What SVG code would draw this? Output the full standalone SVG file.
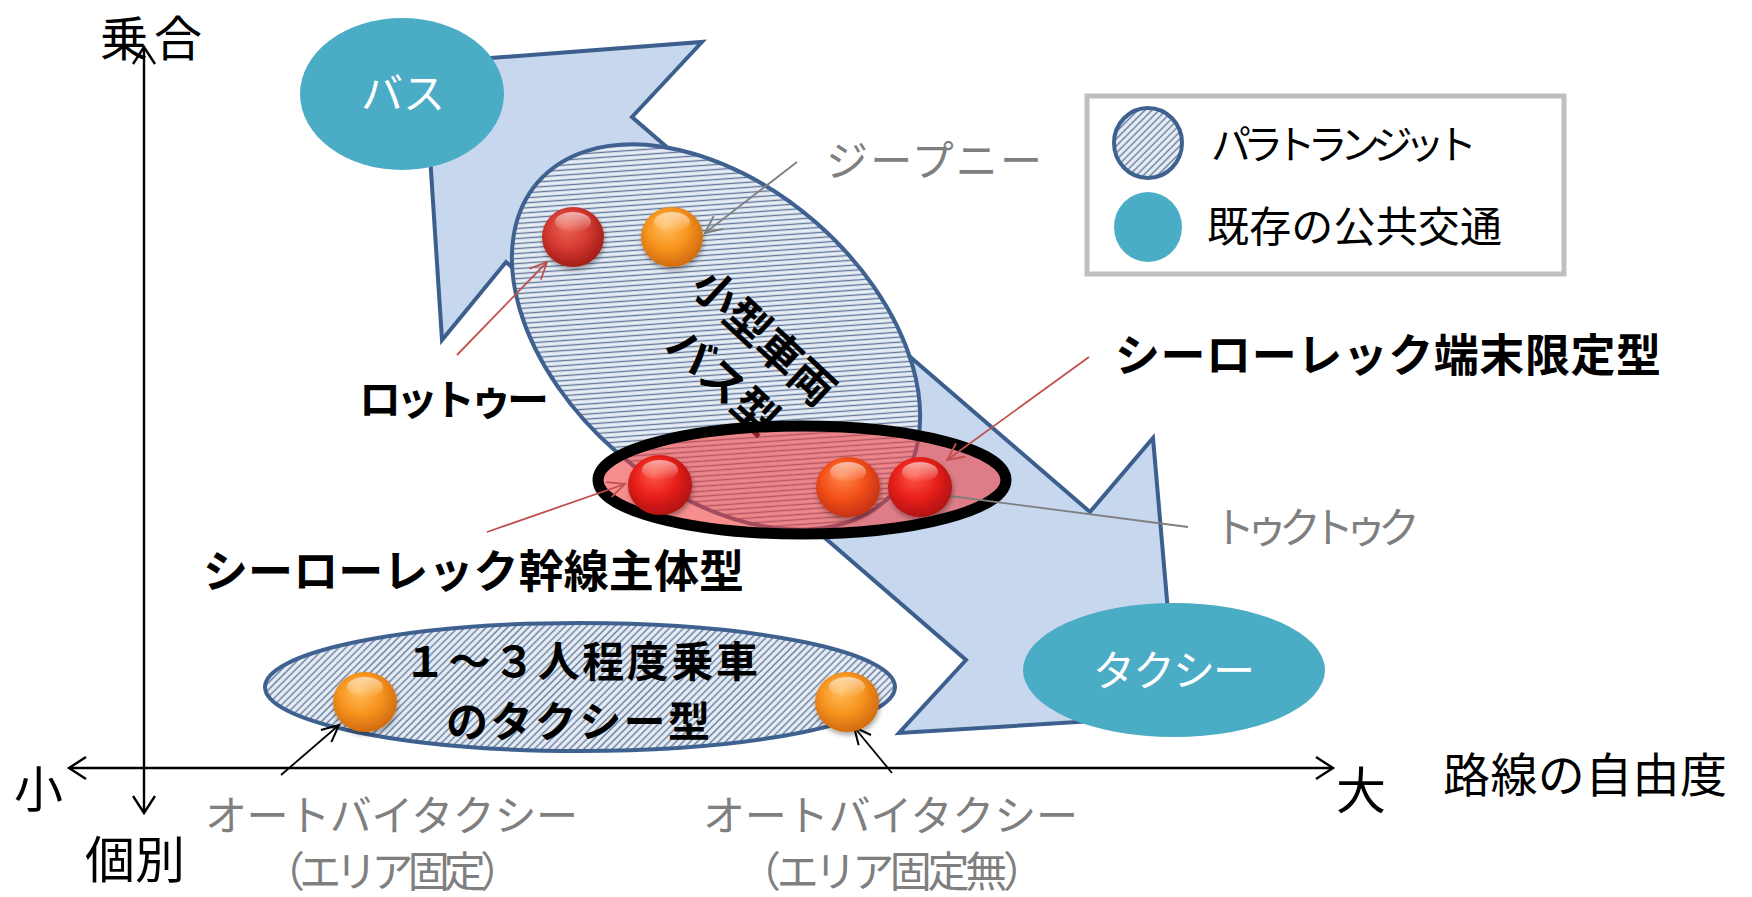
<svg xmlns="http://www.w3.org/2000/svg" width="1752" height="897" viewBox="0 0 1752 897">
<style>
.t { font-family: "Noto Sans CJK JP", "Noto Sans CJK SC", sans-serif; }
.b { font-weight: bold; fill: #000; }
.g { fill: #7F7F7F; }
.k { fill: #000; }
.w { fill: #FFFFFF; }
.hatchShape { fill: url(#hatch); stroke: #3F618F; stroke-width: 4; }
.teal { fill: #4BACC6; }
.lead { fill: none; stroke-width: 1.8; }
.axis { fill: none; stroke: #000; stroke-width: 2.4; }
</style>
<defs>
  <pattern id="hatch" patternUnits="userSpaceOnUse" width="5" height="5" patternTransform="rotate(45)">
    <rect width="5" height="5" fill="#E8EEF6"/>
    <line x1="2.5" y1="0" x2="2.5" y2="5" stroke="#62799A" stroke-width="1.4"/>
  </pattern>
  <radialGradient id="gRedDark" cx="0.45" cy="0.42" r="0.6" fx="0.4" fy="0.3">
    <stop offset="0" stop-color="#EE6A58"/>
    <stop offset="0.55" stop-color="#D43A30"/>
    <stop offset="1" stop-color="#A01C18"/>
  </radialGradient>
  <radialGradient id="gRed" cx="0.45" cy="0.42" r="0.6" fx="0.4" fy="0.3">
    <stop offset="0" stop-color="#FF5A48"/>
    <stop offset="0.55" stop-color="#E8201A"/>
    <stop offset="1" stop-color="#B01010"/>
  </radialGradient>
  <radialGradient id="gOrange" cx="0.45" cy="0.42" r="0.6" fx="0.4" fy="0.3">
    <stop offset="0" stop-color="#FFC060"/>
    <stop offset="0.55" stop-color="#F7941E"/>
    <stop offset="1" stop-color="#D0690E"/>
  </radialGradient>
  <radialGradient id="gOrRed" cx="0.45" cy="0.42" r="0.6" fx="0.4" fy="0.3">
    <stop offset="0" stop-color="#FF8A50"/>
    <stop offset="0.55" stop-color="#F4511A"/>
    <stop offset="1" stop-color="#C43010"/>
  </radialGradient>
  <linearGradient id="hl" x1="0" y1="0" x2="0" y2="1">
    <stop offset="0" stop-color="#FFFFFF" stop-opacity="0.6"/>
    <stop offset="1" stop-color="#FFFFFF" stop-opacity="0"/>
  </linearGradient>
  <filter id="sh" x="-30%" y="-30%" width="160%" height="160%">
    <feDropShadow dx="1" dy="3" stdDeviation="2.5" flood-color="#000" flood-opacity="0.35"/>
  </filter>
  <marker id="mRed" markerWidth="20" markerHeight="18" refX="18" refY="9" orient="auto" markerUnits="userSpaceOnUse">
    <path d="M1,1 L18,9 L1,17" fill="none" stroke="#C0504D" stroke-width="1.8"/>
  </marker>
  <marker id="mGray" markerWidth="20" markerHeight="18" refX="18" refY="9" orient="auto" markerUnits="userSpaceOnUse">
    <path d="M1,1 L18,9 L1,17" fill="none" stroke="#7F7F7F" stroke-width="1.8"/>
  </marker>
  <marker id="mBlack" markerWidth="20" markerHeight="18" refX="18" refY="9" orient="auto" markerUnits="userSpaceOnUse">
    <path d="M1,1 L18,9 L1,17" fill="none" stroke="#000" stroke-width="2"/>
  </marker>
  <marker id="mAxis" markerWidth="22" markerHeight="24" refX="19" refY="12" orient="auto-start-reverse" markerUnits="userSpaceOnUse">
    <path d="M2,1 L19,12 L2,23" fill="none" stroke="#000" stroke-width="2.4"/>
  </marker>
</defs>

<rect width="1752" height="897" fill="#FFFFFF"/>

<!-- axes -->
<g id="axes">
  <line class="axis" x1="144" y1="813" x2="144" y2="47" marker-end="url(#mAxis)" marker-start="url(#mAxis)"/>
  <line class="axis" x1="69" y1="768" x2="1333" y2="768" marker-end="url(#mAxis)" marker-start="url(#mAxis)"/>
  <text class="t k" x="100" y="56" font-size="48" textLength="102" lengthAdjust="spacing">乗合</text>
  <text class="t k" x="85" y="878" font-size="50">個別</text>
  <text class="t k" x="14" y="807" font-size="49">小</text>
  <text class="t k" x="1336" y="809" font-size="50">大</text>
  <text class="t k" x="1443" y="792" font-size="47" textLength="284" lengthAdjust="spacing">路線の自由度</text>
</g>

<!-- big double-headed bent arrow -->
<g id="big-arrow">
  <polygon points="424,63 702,42 632,117 1090,512 1153,438 1177,716 899,733 966,660 506,262 442,340" fill="#C6D7EE" stroke="#3C5F8E" stroke-width="4" stroke-linejoin="miter"/>
</g>

<g id="bus">
  <ellipse class="teal" cx="402" cy="94" rx="102" ry="76"/>
  <text class="t w" x="403" y="109" font-size="42" text-anchor="middle">バス</text>
</g>

<g id="taxi">
  <ellipse class="teal" cx="1174" cy="670" rx="151" ry="67"/>
  <text class="t w" x="1174" y="686" font-size="42" text-anchor="middle" textLength="162" lengthAdjust="spacing">タクシー</text>
</g>

<g id="minibus-group">
  <ellipse class="hatchShape" cx="716" cy="337" rx="236" ry="152" transform="rotate(41 716 337)"/>
  <text class="t b" font-size="44" text-anchor="middle" dominant-baseline="central" transform="translate(766,335) rotate(43)">小型車両</text>
  <text class="t b" font-size="44" text-anchor="middle" dominant-baseline="central" transform="translate(725,379) rotate(43)">バス型</text>
</g>

<g id="taxi-type-group">
  <ellipse class="hatchShape" cx="580" cy="687" rx="315" ry="64"/>
  <text class="t b" x="404" y="677" font-size="42" textLength="354" lengthAdjust="spacing">１～３人程度乗車</text>
  <text class="t b" x="446" y="737" font-size="42" textLength="264" lengthAdjust="spacing">のタクシー型</text>
</g>

<g id="silor-group">
  <ellipse cx="802" cy="480" rx="204" ry="54" fill="#F03C3C" fill-opacity="0.58" stroke="#000" stroke-width="11"/>
</g>

<!-- connectors -->
<g id="connectors">
  <line class="lead" x1="457" y1="355" x2="547" y2="262" stroke="#C0504D" marker-end="url(#mRed)"/>
  <line class="lead" x1="797" y1="162" x2="705" y2="233" stroke="#7F7F7F" marker-end="url(#mGray)"/>
  <line class="lead" x1="1089" y1="357" x2="947" y2="460" stroke="#C0504D" marker-end="url(#mRed)"/>
  <line class="lead" x1="487" y1="532" x2="625" y2="484" stroke="#C0504D" marker-end="url(#mRed)"/>
  <line class="lead" x1="1188" y1="527" x2="935" y2="494" stroke="#7F7F7F"/>
  <line class="lead" x1="281" y1="775" x2="339" y2="725" stroke="#000" stroke-width="2.2" marker-end="url(#mBlack)"/>
  <line class="lead" x1="892" y1="773" x2="854" y2="727" stroke="#000" stroke-width="2.2" marker-end="url(#mBlack)"/>
</g>

<!-- vehicle balls -->
<g id="ball-rottuu" filter="url(#sh)">
  <ellipse cx="573" cy="237" rx="31" ry="30" fill="url(#gRedDark)"/>
  <ellipse cx="573" cy="222" rx="18" ry="10" fill="url(#hl)"/>
</g>
<g id="ball-jeepney" filter="url(#sh)">
  <ellipse cx="672" cy="237" rx="31" ry="30" fill="url(#gOrange)"/>
  <ellipse cx="672" cy="222" rx="18" ry="10" fill="url(#hl)"/>
</g>
<g id="ball-silor1" filter="url(#sh)">
  <ellipse cx="660" cy="485" rx="32" ry="30" fill="url(#gRed)"/>
  <ellipse cx="660" cy="470" rx="18" ry="10" fill="url(#hl)"/>
</g>
<g id="ball-silor2" filter="url(#sh)">
  <ellipse cx="848" cy="487" rx="32" ry="30" fill="url(#gOrRed)"/>
  <ellipse cx="848" cy="472" rx="18" ry="10" fill="url(#hl)"/>
</g>
<g id="ball-silor3" filter="url(#sh)">
  <ellipse cx="920" cy="487" rx="32" ry="30" fill="url(#gRed)"/>
  <ellipse cx="920" cy="472" rx="18" ry="10" fill="url(#hl)"/>
</g>
<g id="ball-moto1" filter="url(#sh)">
  <ellipse cx="365" cy="702" rx="32" ry="30" fill="url(#gOrange)"/>
  <ellipse cx="365" cy="687" rx="18" ry="10" fill="url(#hl)"/>
</g>
<g id="ball-moto2" filter="url(#sh)">
  <ellipse cx="847" cy="702" rx="32" ry="30" fill="url(#gOrange)"/>
  <ellipse cx="847" cy="687" rx="18" ry="10" fill="url(#hl)"/>
</g>

<!-- labels -->
<g id="labels">
  <text class="t b" x="359" y="415" font-size="42" textLength="190" lengthAdjust="spacing">ロットゥー</text>
  <text class="t g" x="826" y="176" font-size="42" textLength="216" lengthAdjust="spacing">ジープニー</text>
  <text class="t b" x="1115" y="372" font-size="45" textLength="546" lengthAdjust="spacing">シーローレック端末限定型</text>
  <text class="t b" x="203" y="588" font-size="45" textLength="541" lengthAdjust="spacing">シーローレック幹線主体型</text>
  <text class="t g" x="1213" y="543" font-size="42" textLength="207" lengthAdjust="spacing">トゥクトゥク</text>
  <text class="t g" x="205" y="831" font-size="42" textLength="373" lengthAdjust="spacing">オートバイタクシー</text>
  <text class="t g" x="263" y="887" font-size="42" textLength="259" lengthAdjust="spacing">（エリア固定）</text>
  <text class="t g" x="703" y="831" font-size="42" textLength="375" lengthAdjust="spacing">オートバイタクシー</text>
  <text class="t g" x="739" y="887" font-size="42" textLength="306" lengthAdjust="spacing">（エリア固定無）</text>
</g>

<!-- legend -->
<g id="legend">
  <rect x="1087" y="96" width="477" height="178" fill="#FFFFFF" stroke="#BFBFBF" stroke-width="5"/>
  <ellipse class="hatchShape" cx="1148" cy="143" rx="34" ry="35"/>
  <ellipse class="teal" cx="1148" cy="227" rx="34" ry="35"/>
  <text class="t k" x="1211" y="159" font-size="40" textLength="266" lengthAdjust="spacing">パラトランジット</text>
  <text class="t k" x="1207" y="242" font-size="42" textLength="295" lengthAdjust="spacing">既存の公共交通</text>
</g>
</svg>
